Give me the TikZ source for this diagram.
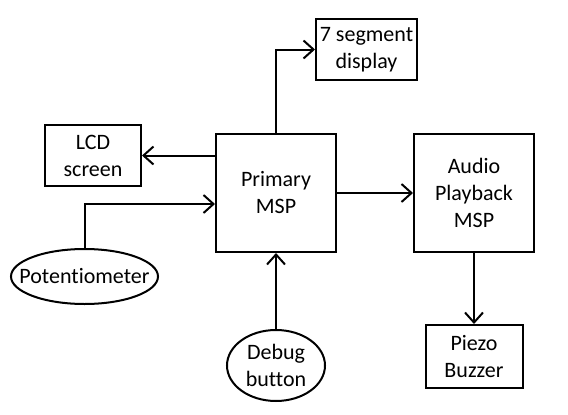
\documentclass[tikz,border=0pt]{standalone}
\usepackage{fontspec}
\setmainfont{Carlito}[Ligatures=NoCommon]
\usetikzlibrary{positioning, shapes.geometric, arrows.meta}

\begin{document}
\begin{tikzpicture}[x=1pt, y=-1pt,
    font=\fontsize{22pt}{27pt}\selectfont,
    block/.style={draw, line width=2pt, align=center, inner sep=2pt},
    blob/.style={draw, ellipse, line width=2pt, align=center, inner sep=0pt},
    link/.style={line width=2pt, -{Straight Barb[length=10pt,width=18pt]}}]
\useasboundingbox (0,0) rectangle (568,415);

\node[block, minimum width=120pt, minimum height=118pt] (prim) at (276,193) {Primary\\MSP};
\node[block, minimum width=120pt, minimum height=118pt, right=76pt of prim] (audio) {Audio\\Playback\\MSP};
\node[block, minimum width=101pt, minimum height=61pt,
    above right=52pt and 39pt of prim.north] (seg) {7 segment\\display};
\node[block, minimum width=96pt, minimum height=61pt,
    above left=6pt and 73pt of prim.west] (lcd) {LCD\\screen};
\node[block, minimum width=97pt, minimum height=63pt, below=71pt of audio] (piezo) {Piezo\\Buzzer};

\node[blob, minimum width=147pt, minimum height=55pt, inner xsep=-14pt,
    below=61pt of lcd.south, xshift=-8.5pt] (pot) {Potentiometer};
\node[blob, minimum width=98pt, minimum height=71pt, below=76pt of prim] (dbg) {Debug\\button};

\draw[link] (prim.west |- lcd.east) -- (lcd.east);
\draw[link] (prim.north) |- (seg.west);
\draw[link] (pot.north) |- ([yshift=-11pt]prim.west);
\draw[link] (prim.east) -- (audio.west);
\draw[link] (dbg.north) -- (prim.south);
\draw[link] (audio.south) -- (piezo.north);
\end{tikzpicture}
\end{document}
